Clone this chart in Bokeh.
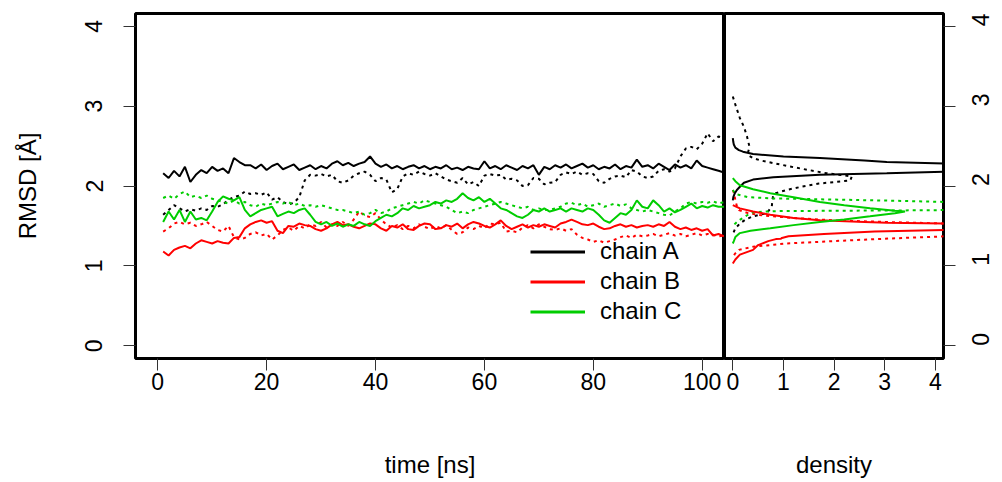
import math
from bokeh.plotting import figure
from bokeh.layouts import row
from bokeh.models import Range1d, FixedTicker, Legend, LegendItem
from bokeh.embed import file_html
from bokeh.resources import INLINE

# ---------------- data ----------------
time_ns = list(range(1, 105))

# chain A (black) run 1 (solid) and run 2 (dotted)
chainA_run1 = [2.16, 2.10, 2.19, 2.12, 2.24, 2.05, 2.14, 2.20, 2.16, 2.24,
               2.19, 2.22, 2.16, 2.35, 2.30, 2.26, 2.26, 2.22, 2.27, 2.20,
               2.25, 2.28, 2.21, 2.24, 2.27, 2.20, 2.23, 2.26, 2.21, 2.25,
               2.22, 2.28, 2.31, 2.26, 2.29, 2.25, 2.28, 2.30, 2.37, 2.28,
               2.24, 2.27, 2.22, 2.25, 2.21, 2.24, 2.26, 2.22, 2.25, 2.21,
               2.24, 2.22, 2.26, 2.21, 2.23, 2.20, 2.24, 2.22, 2.21, 2.31,
               2.22, 2.25, 2.21, 2.26, 2.23, 2.20, 2.25, 2.22, 2.26, 2.14,
               2.24, 2.21, 2.26, 2.23, 2.27, 2.22, 2.25, 2.28, 2.23, 2.26,
               2.21, 2.24, 2.22, 2.27, 2.21, 2.25, 2.23, 2.33, 2.24, 2.26,
               2.22, 2.28, 2.24, 2.20, 2.27, 2.23, 2.26, 2.22, 2.32, 2.25,
               2.23, 2.21, 2.19, 2.17]
chainA_run2 = [1.64, 1.70, 1.76, 1.72, 1.68, 1.71, 1.69, 1.72, 1.70, 1.75,
               1.74, 1.77, 1.83, 1.86, 1.88, 1.93, 1.90, 1.91, 1.89, 1.92,
               1.83, 1.86, 1.80, 1.77, 1.79, 1.86, 2.07, 2.14, 2.13, 2.15,
               2.12, 2.14, 2.06, 2.04, 2.07, 2.13, 2.16, 2.18, 2.14, 2.06,
               2.10, 2.08, 1.92, 1.96, 2.12, 2.16, 2.14, 2.18, 2.15, 2.13,
               2.16, 2.12, 2.08, 2.06, 2.04, 2.10, 2.02, 2.05, 2.00, 2.13,
               2.15, 2.13, 2.14, 2.08, 2.09, 2.07, 2.00, 2.01, 2.10, 2.09,
               2.02, 2.04, 2.05, 2.14, 2.17, 2.15, 2.18, 2.14, 2.16, 2.15,
               2.06, 2.04, 2.09, 2.12, 2.13, 2.11, 2.20, 2.18, 2.12, 2.10,
               2.12, 2.19, 2.21, 2.18, 2.22, 2.37, 2.47, 2.49, 2.46, 2.53,
               2.66, 2.56, 2.62, 2.60]

# chain B (red)
chainB_run1 = [1.18, 1.13, 1.20, 1.23, 1.25, 1.22, 1.28, 1.32, 1.30, 1.28,
               1.31, 1.29, 1.28, 1.35, 1.36, 1.47, 1.52, 1.55, 1.57, 1.54,
               1.56, 1.44, 1.41, 1.50, 1.49, 1.53, 1.51, 1.50, 1.46, 1.44,
               1.47, 1.52, 1.55, 1.51, 1.52, 1.49, 1.47, 1.50, 1.53, 1.52,
               1.47, 1.44, 1.50, 1.48, 1.52, 1.46, 1.45, 1.50, 1.53, 1.52,
               1.46, 1.47, 1.51, 1.49, 1.53, 1.47, 1.52, 1.55, 1.53, 1.50,
               1.48, 1.52, 1.57, 1.50, 1.46, 1.49, 1.52, 1.48, 1.51, 1.49,
               1.52, 1.50, 1.48, 1.53, 1.55, 1.58, 1.55, 1.52, 1.51, 1.53,
               1.49, 1.46, 1.47, 1.50, 1.52, 1.49, 1.51, 1.48, 1.50, 1.51,
               1.49, 1.52, 1.50, 1.55, 1.49, 1.46, 1.48, 1.45, 1.47, 1.44,
               1.46, 1.38, 1.40, 1.37]
chainB_run2 = [1.43, 1.47, 1.53, 1.55, 1.52, 1.54, 1.50, 1.52, 1.55, 1.50,
               1.45, 1.43, 1.50, 1.36, 1.33, 1.35, 1.40, 1.42, 1.38, 1.40,
               1.33, 1.38, 1.45, 1.48, 1.44, 1.50, 1.47, 1.52, 1.50, 1.55,
               1.48, 1.52, 1.50, 1.55, 1.50, 1.58, 1.68, 1.63, 1.61, 1.66,
               1.58, 1.52, 1.48, 1.51, 1.46, 1.50, 1.47, 1.52, 1.49, 1.46,
               1.50, 1.47, 1.51, 1.45, 1.40, 1.42, 1.48, 1.46, 1.50, 1.47,
               1.53, 1.52, 1.54, 1.43, 1.44, 1.42, 1.48, 1.51, 1.47, 1.52,
               1.49, 1.46, 1.45, 1.47, 1.44, 1.46, 1.39, 1.35, 1.33, 1.30,
               1.32, 1.29, 1.31, 1.33, 1.36, 1.38, 1.35, 1.39, 1.37, 1.38,
               1.40, 1.37, 1.39, 1.41, 1.38, 1.40, 1.37, 1.39, 1.41, 1.38,
               1.40, 1.39, 1.37, 1.38]

# chain C (green)
chainC_run1 = [1.55, 1.68, 1.58, 1.70, 1.55, 1.68, 1.58, 1.60, 1.57, 1.68,
               1.80, 1.87, 1.84, 1.82, 1.86, 1.70, 1.62, 1.66, 1.70, 1.72,
               1.74, 1.62, 1.65, 1.68, 1.66, 1.70, 1.72, 1.64, 1.55, 1.52,
               1.55, 1.50, 1.53, 1.49, 1.52, 1.50, 1.55, 1.52, 1.50, 1.56,
               1.60, 1.64, 1.62, 1.66, 1.72, 1.70, 1.75, 1.72, 1.74, 1.76,
               1.80, 1.78, 1.82, 1.80, 1.84, 1.91, 1.85, 1.82, 1.86, 1.80,
               1.84, 1.78, 1.72, 1.70, 1.66, 1.62, 1.60, 1.64, 1.70, 1.68,
               1.72, 1.68, 1.70, 1.72, 1.68, 1.72, 1.70, 1.68, 1.72, 1.70,
               1.64, 1.57, 1.54, 1.60, 1.66, 1.64, 1.70, 1.82, 1.74, 1.72,
               1.82, 1.76, 1.68, 1.72, 1.67, 1.70, 1.74, 1.78, 1.72, 1.75,
               1.73, 1.76, 1.74, 1.74]
chainC_run2 = [1.85, 1.88, 1.84, 1.90, 1.93, 1.86, 1.88, 1.85, 1.88, 1.84,
               1.82, 1.80, 1.78, 1.82, 1.78, 1.80, 1.76, 1.74, 1.78, 1.76,
               1.78, 1.80, 1.78, 1.80, 1.76, 1.78, 1.75, 1.76, 1.74, 1.76,
               1.74, 1.72, 1.70, 1.70, 1.68, 1.66, 1.68, 1.64, 1.66, 1.70,
               1.66, 1.68, 1.72, 1.74, 1.76, 1.78, 1.80, 1.78, 1.82, 1.80,
               1.78, 1.76, 1.74, 1.70, 1.66, 1.68, 1.66, 1.70, 1.72, 1.74,
               1.76, 1.78, 1.80, 1.78, 1.76, 1.74, 1.72, 1.74, 1.70, 1.72,
               1.70, 1.70, 1.72, 1.74, 1.78, 1.79, 1.76, 1.78, 1.74, 1.76,
               1.78, 1.74, 1.76, 1.78, 1.75, 1.77, 1.72, 1.70, 1.68, 1.70,
               1.68, 1.66, 1.64, 1.63, 1.68, 1.72, 1.78, 1.80, 1.78, 1.80,
               1.79, 1.81, 1.78, 1.80]

# density curves (density value, RMSD value)
densA1_rmsd = [2.60, 2.55, 2.52, 2.48, 2.45, 2.43, 2.40, 2.37, 2.35, 2.32, 2.30, 2.28, 2.25,
               2.22, 2.19, 2.17, 2.16, 2.14, 2.11, 2.08, 2.04, 1.99, 1.95, 1.91, 1.86, 1.82]
densA1 = [0.00, 0.01, 0.02, 0.05, 0.12, 0.20, 0.40, 1.00, 1.72, 2.60, 3.04, 4.20, 5.20,
          5.60, 4.80, 3.60, 3.04, 1.72, 0.80, 0.40, 0.22, 0.14, 0.08, 0.04, 0.01, 0.00]
densA2_rmsd = [3.12, 3.00, 2.85, 2.74, 2.62, 2.49, 2.42, 2.38, 2.35, 2.32,
               2.28, 2.24, 2.20, 2.16, 2.12, 2.07, 2.03, 1.99, 1.95, 1.91,
               1.89, 1.82, 1.74, 1.70, 1.66, 1.62, 1.58, 1.53, 1.47, 1.41]
densA2 = [0.00, 0.06, 0.14, 0.22, 0.28, 0.33, 0.30, 0.32, 0.40, 0.55,
          0.85, 1.16, 1.50, 1.85, 2.35, 2.32, 1.70, 1.35, 1.06, 0.85,
          0.80, 0.78, 0.77, 0.72, 0.67, 0.40, 0.25, 0.14, 0.05, 0.01]
densB1_rmsd = [1.76, 1.72, 1.68, 1.64, 1.60, 1.57, 1.55, 1.54, 1.53, 1.50, 1.47, 1.45,
               1.43, 1.40, 1.37, 1.35, 1.34, 1.335, 1.31, 1.26, 1.20, 1.14, 1.08, 1.03]
densB1 = [0.00, 0.14, 0.40, 0.74, 1.20, 1.72, 2.60, 3.04, 4.20, 6.00, 6.00, 4.30,
          2.80, 1.80, 1.10, 0.97, 0.95, 0.85, 0.70, 0.50, 0.40, 0.14, 0.05, 0.00]
densB2_rmsd = [1.95, 1.90, 1.82, 1.75, 1.70, 1.66, 1.63, 1.60, 1.57, 1.55, 1.53,
               1.50, 1.45, 1.40, 1.37, 1.34, 1.31, 1.28, 1.24, 1.20, 1.15, 1.10]
densB2 = [0.00, 0.03, 0.05, 0.08, 0.12, 0.30, 0.60, 1.20, 2.00, 3.00, 4.20,
          5.50, 6.00, 5.00, 4.20, 3.00, 2.00, 1.06, 0.40, 0.12, 0.04, 0.00]
densC1_rmsd = [2.10, 2.06, 2.01, 1.96, 1.91, 1.86, 1.80, 1.76, 1.72, 1.69, 1.68,
               1.66, 1.62, 1.58, 1.55, 1.51, 1.47, 1.44, 1.41, 1.36, 1.31, 1.28]
densC1 = [0.00, 0.05, 0.14, 0.40, 0.74, 1.20, 1.72, 2.20, 2.71, 3.20, 3.40,
          3.20, 2.71, 2.20, 1.72, 1.20, 0.74, 0.35, 0.14, 0.05, 0.02, 0.00]
densC2_rmsd = [1.95, 1.90, 1.86, 1.845, 1.83, 1.815, 1.80, 1.78, 1.75, 1.72,
               1.70, 1.695, 1.69, 1.685, 1.67, 1.64, 1.60, 1.57, 1.53, 1.50]
densC2 = [0.00, 0.05, 0.30, 0.80, 2.00, 3.20, 4.20, 5.50, 6.20, 5.50,
          4.50, 3.50, 2.00, 0.80, 0.40, 0.30, 0.20, 0.12, 0.05, 0.00]

time_ticks = [0, 20, 40, 60, 80, 100]
density_ticks = [0, 1, 2, 3, 4]
rmsd_ticks = [0, 1, 2, 3, 4]
legend_labels = ["chain A", "chain B", "chain C"]

# ---------------- styling ----------------
FONT = "Liberation Sans"
BLACK, RED, GREEN = "#000000", "#FF0000", "#00CD00"
DOT = "3 4"
LW = 2
NAN = float("nan")
TICK_FS = "23px"
TITLE_FS = "24px"


def style(p):
    p.xgrid.visible = False
    p.ygrid.visible = False
    p.outline_line_color = "black"
    p.outline_line_width = 3
    p.outline_line_alpha = 1.0
    p.background_fill_color = "white"
    p.border_fill_color = "white"
    for ax in p.axis:
        ax.axis_line_color = None
        ax.major_tick_line_color = "#333333"
        ax.major_tick_line_width = 1
        ax.major_tick_out = 12
        ax.major_tick_in = 0
        ax.minor_tick_out = 0
        ax.minor_tick_in = 0
        ax.major_label_text_font = FONT
        ax.major_label_text_font_size = TICK_FS
        ax.major_label_text_color = "black"
        ax.axis_label_text_font = FONT
        ax.axis_label_text_font_size = TITLE_FS
        ax.axis_label_text_font_style = "normal"
        ax.axis_label_text_color = "black"


yr = (-0.16, 4.16)

p1 = figure(width=724, height=482, x_range=Range1d(-4.08, 104.1), y_range=Range1d(*yr),
            output_backend="svg", toolbar_location=None,
            min_border_left=135, min_border_right=0, min_border_top=13, min_border_bottom=124)
style(p1)
p1.xaxis.ticker = FixedTicker(ticks=time_ticks, minor_ticks=[])
p1.yaxis.ticker = FixedTicker(ticks=rmsd_ticks, minor_ticks=[])
p1.xaxis.axis_label = "time [ns]"
p1.yaxis.axis_label = "RMSD [Å]"
p1.yaxis.major_label_orientation = "vertical"
p1.xaxis.major_label_standoff = 2
p1.xaxis.axis_label_standoff = 58
p1.yaxis.major_label_standoff = 21
p1.yaxis.axis_label_standoff = 42

for series, col in [(chainA_run2, BLACK), (chainB_run2, RED), (chainC_run2, GREEN)]:
    p1.line(time_ns, series, line_color=col, line_width=LW, line_dash=DOT)
for series, col in [(chainA_run1, BLACK), (chainB_run1, RED), (chainC_run1, GREEN)]:
    p1.line(time_ns, series, line_color=col, line_width=LW)

dummies = [p1.line([NAN], [NAN], line_color=c, line_width=3) for c in (BLACK, RED, GREEN)]
legend = Legend(items=[LegendItem(label=l, renderers=[r]) for l, r in zip(legend_labels, dummies)],
                location=(395, 33), orientation="vertical",
                background_fill_alpha=0, border_line_color=None,
                padding=0, margin=0, spacing=2,
                glyph_width=55, glyph_height=27, label_height=27, label_standoff=15,
                label_text_font=FONT, label_text_font_size=TITLE_FS, label_text_color="black")
p1.add_layout(legend, "center")

p2 = figure(width=278, height=482, x_range=Range1d(-0.164, 4.16), y_range=Range1d(*yr),
            output_backend="svg", toolbar_location=None, y_axis_location="right",
            min_border_left=0, min_border_right=59, min_border_top=13, min_border_bottom=124)
style(p2)
p2.xaxis.ticker = FixedTicker(ticks=density_ticks, minor_ticks=[])
p2.yaxis.ticker = FixedTicker(ticks=rmsd_ticks, minor_ticks=[])
p2.xaxis.axis_label = "density"
p2.yaxis.major_label_orientation = math.pi / 2
p2.xaxis.major_label_standoff = 2
p2.xaxis.axis_label_standoff = 58
p2.yaxis.major_label_standoff = 25

for d, r, col in [(densA2, densA2_rmsd, BLACK), (densB2, densB2_rmsd, RED), (densC2, densC2_rmsd, GREEN)]:
    p2.line(d, r, line_color=col, line_width=LW, line_dash=DOT)
for d, r, col in [(densA1, densA1_rmsd, BLACK), (densB1, densB1_rmsd, RED), (densC1, densC1_rmsd, GREEN)]:
    p2.line(d, r, line_color=col, line_width=LW)

layout = row(p1, p2, spacing=0)
open("out.html", "w").write(file_html(layout, INLINE))
